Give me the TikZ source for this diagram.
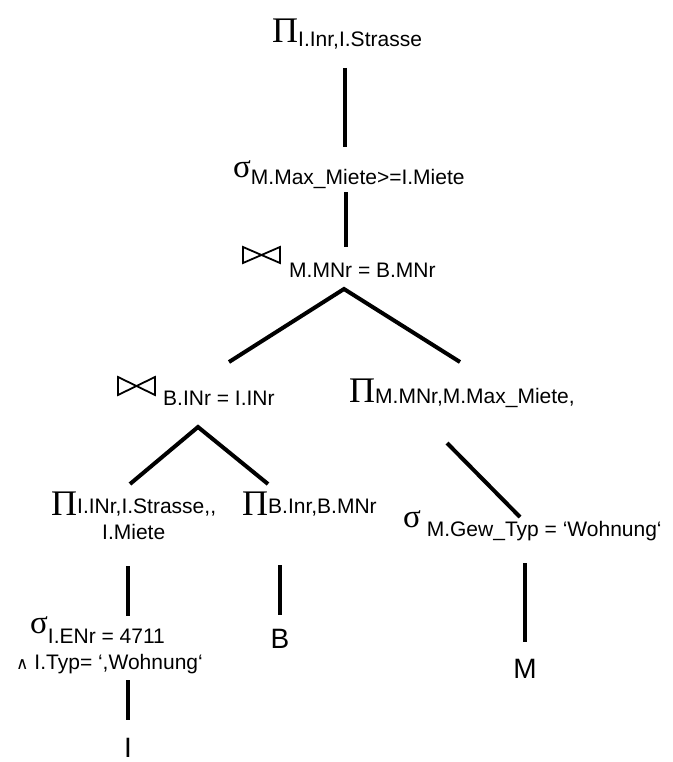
\documentclass[tikz,border=0pt]{standalone}
\usepackage{fontspec}
\setmainfont{Liberation Sans}
\newfontfamily\tnr{Liberation Serif}
\newfontfamily\dvs{DejaVu Sans}
\newcommand{\PiOp}{{\tnr\fontsize{36}{36}\selectfont Π}}
\newcommand{\SigOp}{{\tnr\fontsize{33}{33}\selectfont σ}}
\tikzset{
  lbl/.style={anchor=base west, inner sep=0pt, font=\fontsize{21}{24}\selectfont},
  rel/.style={anchor=base, inner sep=0pt, font=\fontsize{28}{28}\selectfont},
  edge/.style={line width=4pt},
  bowtie/.style={line width=1.8pt, line join=miter},
}
\begin{document}
\begin{tikzpicture}[x=1pt,y=-1pt]
\useasboundingbox (0,0) rectangle (672,762);
% operators
\node[lbl] (piTop) at (272,43) {\PiOp\raisebox{-4pt}{I.Inr,I.Strasse}};
\node[lbl] (sigTop) at (233,177) {\SigOp\raisebox{-8pt}{M.Max\_Miete>=I.Miete}};
\draw[bowtie] (243,247) -- (243,263) -- (280,247) -- (280,263) -- cycle;
\node[lbl] (joinTop) at (289,277) {M.MNr = B.MNr};
\draw[bowtie] (118,377) -- (118,395) -- (155,377) -- (155,395) -- cycle;
\node[lbl] (joinL) at (163,405) {B.INr = I.INr};
\node[lbl] (piR) at (349,402) {\PiOp\raisebox{-1pt}{M.MNr,M.Max\_Miete,}};
\node[lbl] (piL) at (51,515) {\PiOp\raisebox{2pt}{I.INr,I.Strasse,{},}};
\node[lbl] (piL2) at (102,539) {I.Miete};
\node[lbl] (piM) at (242,515) {\PiOp\raisebox{2pt}{B.Inr,B.MNr}};
\node[lbl] (sigR) at (403,527) {\SigOp\raisebox{-9pt}{ M.Gew\_Typ = ‘Wohnung‘}};
\node[lbl] (sigL) at (30,633) {\SigOp\raisebox{-10pt}{I.ENr = 4711}};
\node[lbl] (sigL2) at (16,669) {{\dvs\fontsize{17}{17}\selectfont ∧} I.Typ= ‘,Wohnung‘};
% relations
\node[rel] (relB) at (280,648) {B};
\node[rel] (relM) at (525,678) {M};
\node[rel] (relI) at (128,757) {I};
% connector end points
\coordinate (a1) at (345,68);  \coordinate (a2) at (345,147);
\coordinate (b1) at (346,192); \coordinate (b2) at (346,247);
\coordinate (cA) at (344,289); \coordinate (cL) at (229,362); \coordinate (cR) at (460,362);
\coordinate (dA) at (198,427); \coordinate (dL) at (130,484); \coordinate (dR) at (268,484);
\coordinate (e1) at (447,443); \coordinate (e2) at (520,517);
\coordinate (f1) at (128,566); \coordinate (f2) at (128,616);
\coordinate (g1) at (280,565); \coordinate (g2) at (280,615);
\coordinate (h1) at (525,563); \coordinate (h2) at (525,642);
\coordinate (k1) at (128,680); \coordinate (k2) at (128,720);
\draw[edge] (a1) -- (a2);
\draw[edge] (b1) -- (b2);
\draw[edge] (cL) -- (cA) -- (cR);
\draw[edge] (dL) -- (dA) -- (dR);
\draw[edge] (e1) -- (e2);
\draw[edge] (f1) -- (f2);
\draw[edge] (g1) -- (g2);
\draw[edge] (h1) -- (h2);
\draw[edge] (k1) -- (k2);
\end{tikzpicture}
\end{document}
